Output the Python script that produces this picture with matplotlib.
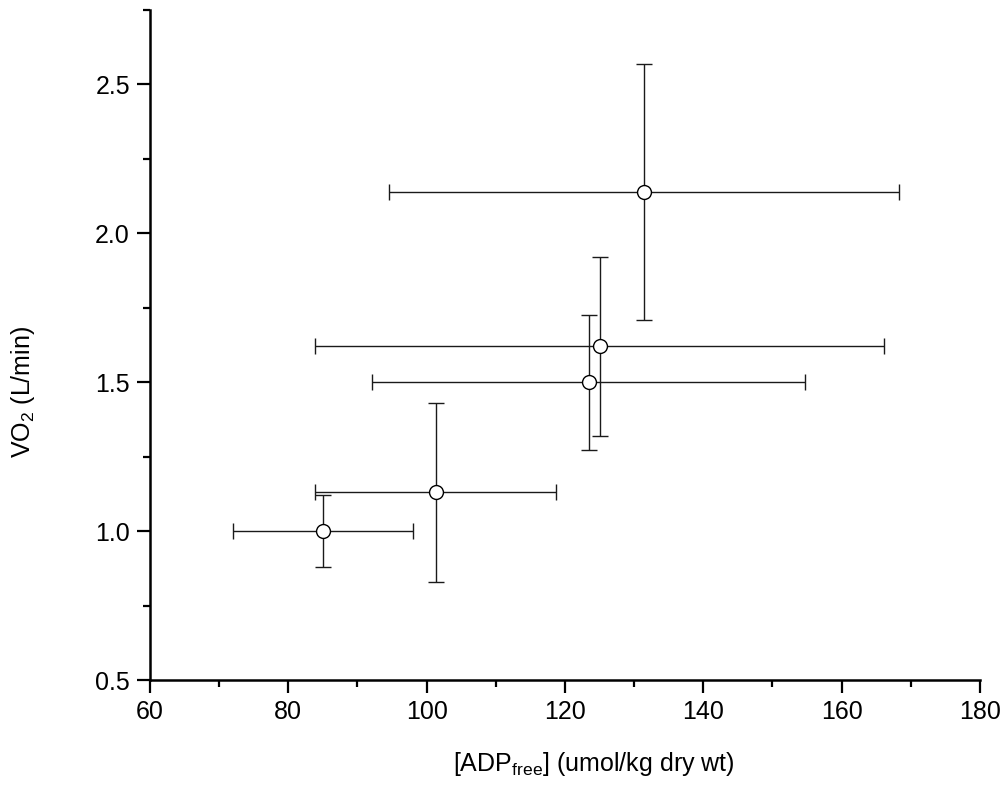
import matplotlib

matplotlib.use("Agg")
import matplotlib.pyplot as plt
from matplotlib.ticker import FormatStrFormatter, MultipleLocator

plt.rcParams["font.family"] = ["Liberation Sans", "DejaVu Sans"]
plt.rcParams["font.size"] = 18
plt.rcParams["mathtext.fontset"] = "custom"
plt.rcParams["mathtext.rm"] = "Liberation Sans"

# Mean [ADP_free] and VO2 with their SDs.
adp_free = [85.0, 101.3, 123.4, 125.0, 131.4]
adp_err = [13.0, 17.4, 31.3, 41.1, 36.9]
vo2 = [1.00, 1.13, 1.50, 1.62, 2.14]
vo2_err = [0.12, 0.30, 0.226, 0.30, 0.43]

fig = plt.figure(figsize=(10.08, 8.06), dpi=100)
ax = fig.add_axes([0.1488, 0.1563, 0.8234, 0.8313])

ax.errorbar(adp_free, vo2, xerr=adp_err, yerr=vo2_err, fmt="none",
            ecolor="#1a1a1a", elinewidth=1.0, capsize=5.5, capthick=1.0, zorder=2)
ax.plot(adp_free, vo2, "o", markersize=10, markerfacecolor="white",
        markeredgecolor="black", markeredgewidth=1.0, zorder=3)

ax.set_xlim(60, 180)
ax.set_ylim(0.5, 2.75)
ax.xaxis.set_major_locator(MultipleLocator(20))
ax.xaxis.set_minor_locator(MultipleLocator(10))
ax.yaxis.set_major_locator(MultipleLocator(0.5))
ax.yaxis.set_minor_locator(MultipleLocator(0.25))
ax.yaxis.set_major_formatter(FormatStrFormatter("%.1f"))

ax.spines["top"].set_visible(False)
ax.spines["right"].set_visible(False)
for side in ("left", "bottom"):
    ax.spines[side].set_linewidth(1.8)
ax.tick_params(which="major", direction="out", length=9.4, width=1.6, labelsize=18, pad=5)
ax.tick_params(which="minor", direction="out", length=5, width=1.6)

ax.set_xlabel(r"[ADP$_{\mathregular{free}}$] (umol/kg dry wt)", fontsize=18)
ax.set_ylabel(r"VO$_{\mathregular{2}}$ (L/min)", fontsize=18)
# Label positions in axes fractions.
ax.xaxis.set_label_coords(0.535, -0.105)
ax.yaxis.set_label_coords(-0.136, 0.43)

fig.savefig("out.png", dpi=100)
